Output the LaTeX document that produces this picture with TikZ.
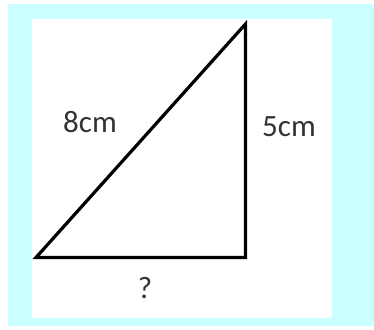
\documentclass[tikz,border=0pt]{standalone}
\usepackage{fontspec}
\setmainfont{Carlito}
\definecolor{panelcyan}{RGB}{204,255,255}
\begin{document}
\begin{tikzpicture}[x=1pt,y=-1pt,
  side/.style={font=\fontsize{31}{36}\selectfont, text=black!80, anchor=base, inner sep=0pt}]
\useasboundingbox (0,0) rectangle (374,329);
\fill[panelcyan] (8,4) rectangle (374,326);
\fill[white] (32,19) rectangle (332,318);
\coordinate (A) at (36,257.5);
\coordinate (B) at (245.5,257.5);
\coordinate (C) at (245.5,24);
\draw[line width=3.2pt, line join=miter] (A) -- (B) -- (C) -- cycle;
\node[side] (hyp) at (90,132) {8cm};
\node[side] (leg) at (289,136) {5cm};
\node[side] (base) at (145,298) {?};
\end{tikzpicture}
\end{document}
